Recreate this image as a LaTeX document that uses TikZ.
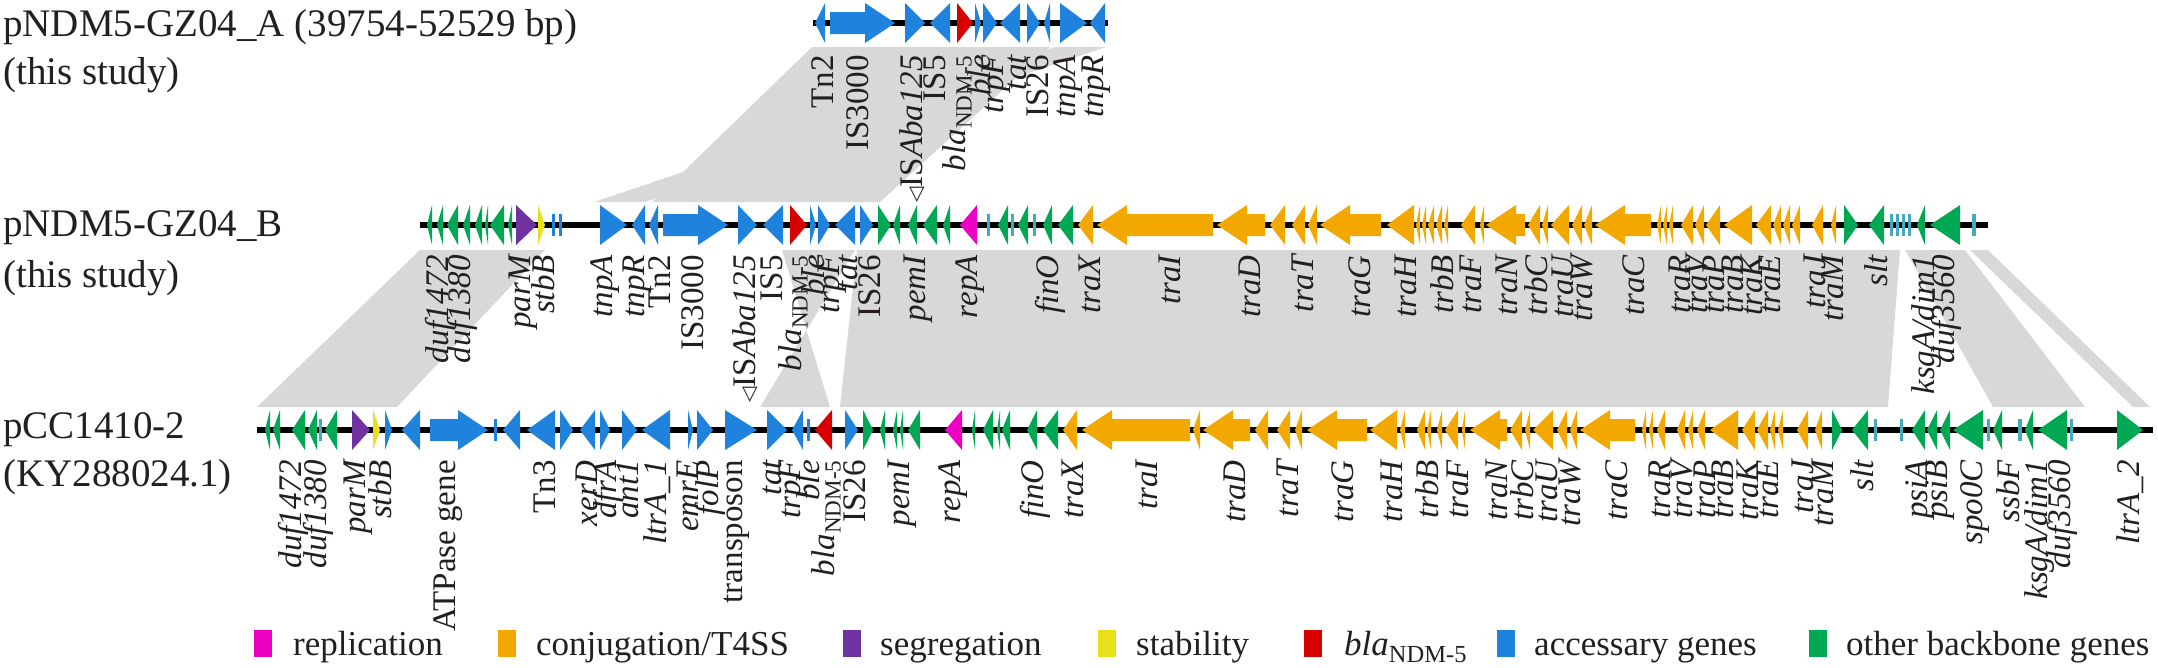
\documentclass[tikz,border=0pt]{standalone}
\usepackage{fontspec}
\setmainfont{Liberation Serif}
\newfontfamily\symf{DejaVu Sans}
\definecolor{gblue}{RGB}{31,130,220}
\definecolor{ggreen}{RGB}{0,168,84}
\definecolor{gorange}{RGB}{243,168,0}
\definecolor{gred}{RGB}{215,0,0}
\definecolor{gmag}{RGB}{236,0,196}
\definecolor{gpurple}{RGB}{112,50,160}
\definecolor{gyellow}{RGB}{232,225,25}
\definecolor{gteal}{RGB}{70,170,190}
\definecolor{bandgray}{RGB}{216,216,216}
\definecolor{txt}{RGB}{35,31,32}
\newcommand\drawgene[5]{%
  \pgfmathsetmacro\glen{#2-#1}%
  \if R#4%
    \ifdim\glen pt>34pt
      \fill[#5] (#1,#3-11) -- (#2-30,#3-11) -- (#2-30,#3-20) -- (#2,#3) -- (#2-30,#3+20) -- (#2-30,#3+11) -- (#1,#3+11) -- cycle;
    \else
      \fill[#5] (#1,#3-20) -- (#2,#3) -- (#1,#3+20) -- cycle;
    \fi
  \else
    \if L#4%
      \ifdim\glen pt>34pt
        \fill[#5] (#2,#3-11) -- (#1+30,#3-11) -- (#1+30,#3-20) -- (#1,#3) -- (#1+30,#3+20) -- (#1+30,#3+11) -- (#2,#3+11) -- cycle;
      \else
        \fill[#5] (#2,#3-20) -- (#1,#3) -- (#2,#3+20) -- cycle;
      \fi
    \else
      \fill[#5] (#1,#3-11) rectangle (#2,#3+11);
    \fi
  \fi
}
\newcommand\genes[3]{\foreach \xa/\xb/\dd in {#3} {\drawgene{\xa}{\xb}{#1}{\dd}{#2}}}
\newcommand\labels[3]{\foreach \xx/\tt [count=\ii] in {#3} {\node[glab] (#1\ii) at (\xx,#2) {\tt};}}
\newcommand\blan{bla\textsubscript{\textup{NDM-5}}}
\newcommand\isab{{\symf\fontsize{20}{24}\selectfont ◁}\textup{IS}Aba125}
\newcommand\ksg{ksgA/dim1}
\newcommand\ltrone{ltrA\_1}
\newcommand\ltrtwo{ltrA\_2}
\begin{document}
\begin{tikzpicture}[x=1pt,y=-1pt,
  glab/.style={rotate=90, anchor=east, inner sep=0pt, text=txt, font=\fontsize{33}{38}\selectfont\itshape},
  ttl/.style={anchor=base west, inner sep=0pt, text=txt, font=\fontsize{39}{44}\selectfont},
  legtx/.style={anchor=base west, inner sep=0pt, text=txt, font=\fontsize{35}{40}\selectfont},
  legsq/.style={minimum width=18pt, minimum height=27pt, inner sep=0pt, draw=none},
  band/.style={fill=bandgray},
  track/.style={line width=5.5pt, black}]
\useasboundingbox (0,0) rectangle (2158,667);
% homology bands
\fill[band] (812,47) -- (1050,47) -- (880,202) -- (652,202) -- cycle;
\fill[band] (1055,47) -- (1106,47) -- (645,202) -- (594,202) -- cycle;
\fill[band] (420,250) -- (545,250) -- (397,407) -- (257,407) -- cycle;
\fill[band] (782,250) -- (855,250) -- (760,407) -- (830,407) -- cycle;
\fill[band] (857,250) -- (1900,250) -- (1888,407) -- (840,407) -- cycle;
\fill[band] (1905,250) -- (1965,250) -- (2085,407) -- (1993,407) -- cycle;
\fill[band] (1970,250) -- (1988,250) -- (2150,407) -- (2133,407) -- cycle;
% tracks
\coordinate (Aa) at (813,23); \coordinate (Ab) at (1108,23);
\coordinate (Ba) at (420,225); \coordinate (Bb) at (1988,225);
\coordinate (Ca) at (257,430); \coordinate (Cb) at (2153,430);
\draw[track] (Aa) -- (Ab);
\draw[track] (Ba) -- (Bb);
\draw[track] (Ca) -- (Cb);
% track A genes
\genes{23}{gblue}{815/825/L, 830/895/R, 905/925/R, 930/950/L, 975/981/R, 983/997/R, 1000/1020/L, 1027/1040/R, 1044/1050/L, 1060/1087/R, 1090/1105/L}
\genes{23}{gred}{957/973/R}
% track B genes
\genes{225}{ggreen}{427/432/L, 437/443/L, 447/458/L, 463/470/L, 475/482/L, 485/488/L, 490/504/L, 508/512/L, 878/891/R, 893/900/L, 908/917/L, 923/937/L, 943/950/L, 998/1008/L, 1018/1028/L, 1043/1052/L, 1058/1073/L, 1844/1858/R, 1869/1884/L, 1917/1925/L, 1930/1960/L}
\genes{225}{gpurple}{516/537/R}
\genes{225}{gyellow}{538/545/R}
\genes{225}{gblue}{552/555/T, 559/562/T, 600/627/R, 632/645/L, 649/658/L, 663/728/R, 738/757/R, 763/783/L, 810/816/R, 818/830/R, 835/855/L, 860/873/R}
\genes{225}{gred}{790/807/R}
\genes{225}{gmag}{960/977/L}
\genes{225}{gteal}{987/990/T, 1011/1014/T, 1033/1036/T, 1890/1893/T, 1896/1899/T, 1902/1905/T, 1908/1911/T, 1972/1976/T}
\genes{225}{gorange}{1078/1093/L, 1097/1213/L, 1217/1265/L, 1270/1285/L, 1292/1305/L, 1308/1317/L, 1320/1381/L, 1387/1414/L, 1416/1420/L, 1422/1426/L, 1428/1434/L, 1436/1442/L, 1444/1448/L, 1461/1475/L, 1480/1484/L, 1486/1525/L, 1528/1540/L, 1542/1548/L, 1551/1569/L, 1572/1582/L, 1584/1592/L, 1595/1651/L, 1657/1661/L, 1663/1667/L, 1669/1673/L, 1681/1693/L, 1695/1704/L, 1706/1720/L, 1724/1752/L, 1756/1771/L, 1773/1781/L, 1783/1790/L, 1792/1800/L, 1812/1823/L, 1831/1836/L}
% track C genes
\genes{430}{ggreen}{265/270/L, 273/280/L, 292/305/L, 308/317/L, 325/337/L, 863/873/R, 880/885/L, 893/897/L, 900/903/L, 908/920/L, 972/975/L, 983/993/L, 997/1000/L, 1002/1010/L, 1027/1037/L, 1043/1058/L, 1832/1842/R, 1852/1868/L, 1912/1925/L, 1927/1937/L, 1940/1950/L, 1953/1983/L, 1993/2002/L, 2025/2033/L, 2038/2067/L, 2117/2143/R}
\genes{430}{gpurple}{352/370/R}
\genes{430}{gyellow}{373/380/R}
\genes{430}{gblue}{385/392/R, 402/420/L, 430/488/R, 494/497/T, 503/520/L, 527/555/L, 560/573/R, 580/595/L, 600/610/R, 622/637/R, 642/670/L, 688/693/R, 697/713/R, 725/757/R, 767/787/R, 792/803/L, 807/810/T, 845/858/R}
\genes{430}{gred}{815/832/L}
\genes{430}{gmag}{945/962/L}
\genes{430}{gteal}{319/322/T, 1874/1877/T, 1900/1903/T, 1987/1990/T, 2018/2022/T, 2070/2073/T}
\genes{430}{gorange}{1063/1077/L, 1082/1190/L, 1193/1200/L, 1203/1250/L, 1255/1268/L, 1277/1290/L, 1295/1302/L, 1307/1367/L, 1370/1397/L, 1400/1405/L, 1417/1425/L, 1427/1431/L, 1437/1442/L, 1445/1458/L, 1462/1465/L, 1470/1507/L, 1510/1522/L, 1525/1530/L, 1533/1553/L, 1557/1567/L, 1570/1577/L, 1580/1635/L, 1642/1646/L, 1649/1653/L, 1657/1665/L, 1677/1685/L, 1688/1693/L, 1697/1705/L, 1710/1738/L, 1742/1755/L, 1757/1768/L, 1770/1775/L, 1778/1783/L, 1797/1808/L, 1815/1822/L}
% gene labels
\labels{la}{55}{823/\textup{Tn2}, 858/\textup{IS3000}, 912/\isab, 935/\textup{IS5}, 957/\blan, 979/ble, 996/trpF, 1017/tat, 1038/\textup{IS26}, 1068/tnpA, 1096/tnpR}
\labels{lb}{255}{440/duf1472, 462/duf1380, 523/parM, 543/stbB, 605/tnpA, 637/tnpR, 660/\textup{Tn2}, 693/\textup{IS3000}, 745/\isab, 772/\textup{IS5}, 793/\blan, 813/ble, 832/trpF, 848/tat, 870/\textup{IS26}, 918/pemI, 970/repA, 1050/finO, 1090/traX, 1170/traI, 1250/traD, 1303/traT, 1360/traG, 1406/traH, 1442/trbB, 1471/traF, 1507/traN, 1536/trbC, 1563/traU, 1582/traW, 1634/traC, 1680/traR, 1697/traV, 1714/traP, 1733/traB, 1752/traK, 1770/traE, 1815/traJ, 1833/traM, 1876/slt, 1927/\ksg, 1946/duf3560}
\labels{lc}{460}{293/duf1472, 318/duf1380, 358/parM, 380/stbB, 448/\textup{ATPase gene}, 545/\textup{Tn3}, 587/xerD, 608/dfrA, 628/ant1, 657/\ltrone, 688/emrE, 710/folP, 737/\textup{transposon}, 772/tat, 793/trpF, 808/ble, 826/\blan, 855/\textup{IS26}, 902/pemI, 953/repA, 1035/finO, 1073/traX, 1147/traI, 1235/traD, 1288/traT, 1343/traG, 1392/traH, 1427/trbB, 1458/traF, 1497/traN, 1522/trbC, 1547/traU, 1570/traW, 1617/traC, 1660/traR, 1682/traV, 1705/traP, 1723/traB, 1748/traK, 1768/traE, 1803/traJ, 1823/traM, 1862/slt, 1920/psiA, 1940/psiB, 1975/spo0C, 2008/ssbF, 2040/\ksg, 2062/duf3560, 2130/\ltrtwo}
% titles
\node[ttl] (tA1) at (3,36) {pNDM5-GZ04\_A (39754-52529 bp)};
\node[ttl] (tA2) at (3,84) {(this study)};
\node[ttl] (tB1) at (3,236) {pNDM5-GZ04\_B};
\node[ttl] (tB2) at (3,287) {(this study)};
\node[ttl] (tC1) at (3,438) {pCC1410-2};
\node[ttl] (tC2) at (3,486) {(KY288024.1)};
% legend
\node[legsq, fill=gmag] (k1) at (263,643.5) {};
\node[legtx] (k1t) at (293,655) {replication};
\node[legsq, fill=gorange] (k2) at (507,643.5) {};
\node[legtx] (k2t) at (536,655) {conjugation/T4SS};
\node[legsq, fill=gpurple] (k3) at (852,643.5) {};
\node[legtx] (k3t) at (880,655) {segregation};
\node[legsq, fill=gyellow] (k4) at (1107,643.5) {};
\node[legtx] (k4t) at (1136,655) {stability};
\node[legsq, fill=gred] (k5) at (1313,643.5) {};
\node[legtx] (k5t) at (1344,655) {\textit{bla}\textsubscript{NDM-5}};
\node[legsq, fill=gblue] (k6) at (1506,643.5) {};
\node[legtx] (k6t) at (1534,655) {accessary genes};
\node[legsq, fill=ggreen] (k7) at (1818,643.5) {};
\node[legtx] (k7t) at (1846,655) {other backbone genes};
\end{tikzpicture}
\end{document}
